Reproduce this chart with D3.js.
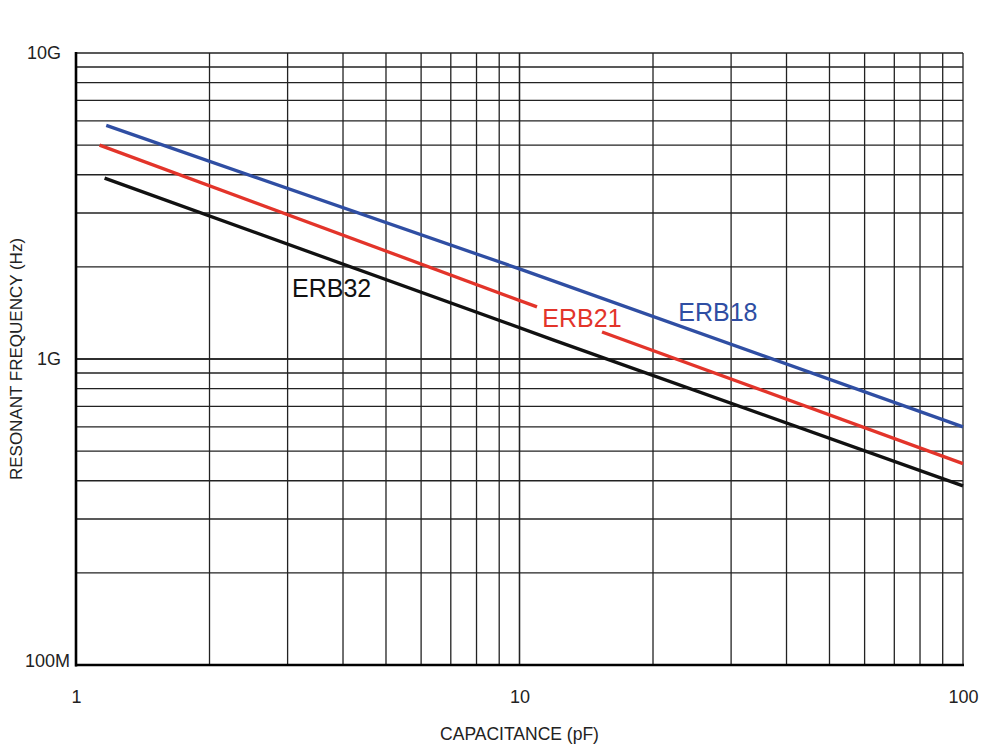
<!DOCTYPE html>
<html>
<head>
<meta charset="utf-8">
<script src="https://cdn.jsdelivr.net/npm/d3@7"></script>
<style>
  body { margin: 0; background: #fff; }
  text { font-family: "Liberation Sans", Arial, Helvetica, sans-serif; }
</style>
</head>
<body>
<svg id="chart" width="981" height="745"></svg>
<script>
// axis domains and tick labels
var xTicks = [1, 10, 100];
var xTickLabels = ['1', '10', '100'];
var yTicks = [1e8, 1e9, 1e10];
var yTickLabels = ['100M', '1G', '10G'];

// series (capacitance in pF, frequency in Hz)
var erb18C = [1.17, 10, 100];
var erb18F = [5.8e9, 1.97e9, 6.0e8];
var erb21C1 = [1.13, 10.95];            // red line is broken round its label
var erb21F1 = [5.0e9, 1.48e9];
var erb21C2 = [15.35, 100];
var erb21F2 = [1.225e9, 4.55e8];
var erb32C = [1.16, 11.9, 100];
var erb32F = [3.9e9, 1.155e9, 3.85e8];

// labels (name, capacitance, frequency at baseline)
var labelNames = ['ERB32', 'ERB21', 'ERB18'];
var labelC = [3.07, 11.26, 22.8];
var labelF = [1.594e9, 1.272e9, 1.331e9];

var colBlue = '#2f4ea3', colRed = '#e3342a', colBlack = '#111111';
var labelColors = [colBlack, colRed, colBlue];

var margin = {top: 53, right: 18, bottom: 80, left: 76};
var width = 981 - margin.left - margin.right;
var height = 745 - margin.top - margin.bottom;

var svg = d3.select('#chart');
var g = svg.append('g').attr('transform', 'translate(' + margin.left + ',' + margin.top + ')');

var x = d3.scaleLog().domain([1, 100]).range([0, width]);
var y = d3.scaleLog().domain([1e8, 1e10]).range([height, 0]);

// grid lines, every integer step of each decade
var xGrid = [], yGrid = [];
for (var d = 1; d < 100; d *= 10) {
	for (var k = 1; k <= 10; k++) xGrid.push(d * k);
}
for (var e = 1e8; e < 1e10; e *= 10) {
	for (var k = 1; k <= 10; k++) yGrid.push(e * k);
}

g.append('g').selectAll('line').data(xGrid).join('line')
	.attr('x1', function (v) { return x(v); })
	.attr('x2', function (v) { return x(v); })
	.attr('y1', 0).attr('y2', height)
	.attr('stroke', '#222').attr('stroke-width', 1.3);

g.append('g').selectAll('line').data(yGrid).join('line')
	.attr('x1', 0).attr('x2', width)
	.attr('y1', function (v) { return y(v); })
	.attr('y2', function (v) { return y(v); })
	.attr('stroke', '#222').attr('stroke-width', 1.3);

// heavier left and bottom axis lines
g.append('line').attr('x1', 0).attr('x2', 0).attr('y1', -1).attr('y2', height + 1.5)
	.attr('stroke', '#000').attr('stroke-width', 2.6);
g.append('line').attr('x1', -1).attr('x2', width + 1).attr('y1', height).attr('y2', height)
	.attr('stroke', '#000').attr('stroke-width', 2.6);

// tick labels via axes, no tick marks
var xAxis = d3.axisBottom(x).tickValues(xTicks).tickSize(0).tickPadding(25)
	.tickFormat(function (v, i) { return xTickLabels[i]; });
var xAxisGroup = g.append('g').attr('transform', 'translate(0,' + height + ')').call(xAxis);
xAxisGroup.select('.domain').remove();
xAxisGroup.selectAll('text').attr('font-size', 18).attr('fill', '#222')
	.attr('font-family', '"Liberation Sans", Arial, sans-serif');

var yAxis = d3.axisLeft(y).tickValues(yTicks).tickSize(0).tickPadding(15)
	.tickFormat(function (v, i) { return yTickLabels[i]; });
var yAxisGroup = g.append('g').call(yAxis);
yAxisGroup.select('.domain').remove();
yAxisGroup.selectAll('text').attr('font-size', 18).attr('fill', '#222')
	.attr('font-family', '"Liberation Sans", Arial, sans-serif');
// the 100M label sits closer to the axis and a bit lower
yAxisGroup.selectAll('.tick').filter(function (v) { return v === 1e8; })
	.select('text').attr('x', -6).attr('dy', '0.1em');

// axis titles
svg.append('text').attr('x', margin.left + width / 2).attr('y', 740)
	.attr('text-anchor', 'middle').attr('font-size', 17.5).attr('fill', '#222')
	.text('CAPACITANCE (pF)');
svg.append('text').attr('transform', 'translate(22,' + (margin.top + height / 2) + ') rotate(-90)')
	.attr('text-anchor', 'middle').attr('font-size', 17).attr('fill', '#222')
	.text('RESONANT FREQUENCY (Hz)');

// series lines
var line = d3.line()
	.x(function (p) { return x(p[0]); })
	.y(function (p) { return y(p[1]); });

function drawSeries(cs, fs, color) {
	var pts = cs.map(function (c, i) { return [c, fs[i]]; });
	g.append('path').datum(pts)
		.attr('d', line)
		.attr('fill', 'none')
		.attr('stroke', color)
		.attr('stroke-width', 3.3);
}
drawSeries(erb32C, erb32F, colBlack);
drawSeries(erb21C1, erb21F1, colRed);
drawSeries(erb21C2, erb21F2, colRed);
drawSeries(erb18C, erb18F, colBlue);

// series labels
g.append('g').selectAll('text').data(labelNames).join('text')
	.attr('x', function (n, i) { return x(labelC[i]); })
	.attr('y', function (n, i) { return y(labelF[i]); })
	.attr('font-size', 25)
	.attr('fill', function (n, i) { return labelColors[i]; })
	.text(function (n) { return n; });
</script>
</body>
</html>
